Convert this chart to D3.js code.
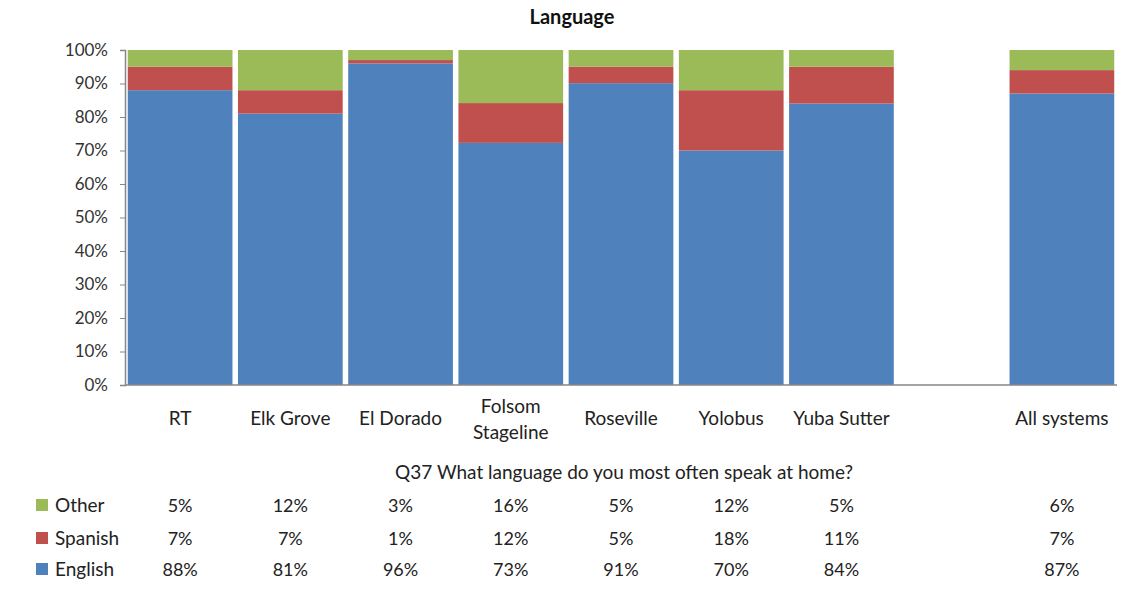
<!DOCTYPE html>
<html>
<head>
<meta charset="utf-8">
<script src="https://cdn.jsdelivr.net/npm/d3@7"></script>
<style>
  body { margin: 0; background: #fff; }
  svg { display: block; font-family: Lato, "Open Sans", sans-serif; }
</style>
</head>
<body>
<svg id="chart" width="1128" height="592"></svg>
<script>
// ---- data ----
const categories = ["RT", "Elk Grove", "El Dorado", "Folsom Stageline", "Roseville", "Yolobus", "Yuba Sutter", "", "All systems"];
const englishValues = [88, 81, 96, 73, 91, 70, 84, null, 87];
const spanishValues = [7, 7, 1, 12, 5, 18, 11, null, 7];
const otherValues   = [5, 12, 3, 16, 5, 12, 5, null, 6];
const seriesNames = ["English", "Spanish", "Other"];
const yTicks = [0, 0.1, 0.2, 0.3, 0.4, 0.5, 0.6, 0.7, 0.8, 0.9, 1.0];
const titleText = "Language";
const questionText = "Q37 What language do you most often speak at home?";

const colors = { English: "#4F81BD", Spanish: "#C0504D", Other: "#9BBB59" };

const svg = d3.select("#chart");
const plot = { left: 125, right: 1117, top: 50, bottom: 385 };

const rows = categories.map((c, i) => ({
  key: i, cat: c,
  English: englishValues[i] || 0,
  Spanish: spanishValues[i] || 0,
  Other: otherValues[i] || 0
}));

const x = d3.scaleBand().domain(rows.map(r => r.key)).range([plot.left, plot.right])
  .paddingInner(0.05).paddingOuter(0.025);
const y = d3.scaleLinear().domain([0, 1]).range([plot.bottom, plot.top]);

const stack = d3.stack().keys(seriesNames).offset(d3.stackOffsetExpand);
const stacked = stack(rows.filter(r => r.cat !== ""));

// bars
svg.append("g").selectAll("g").data(stacked).join("g")
  .attr("fill", d => colors[d.key])
  .selectAll("rect").data(d => d).join("rect")
  .attr("x", d => x(d.data.key))
  .attr("width", x.bandwidth())
  .attr("y", d => y(d[1]))
  .attr("height", d => y(d[0]) - y(d[1]));

// y axis
const yAxis = svg.append("g").attr("transform", `translate(${plot.left},0)`)
  .call(d3.axisLeft(y).tickValues(yTicks).tickFormat(d3.format(".0%")).tickSize(5).tickPadding(12));
yAxis.select(".domain").attr("stroke", "#868686").attr("stroke-width", 1.5);
yAxis.selectAll(".tick line").attr("stroke", "#868686");
yAxis.selectAll("text").attr("font-size", 17).attr("fill", "#333").attr("font-family", "Lato, sans-serif");

// x axis baseline
svg.append("line").attr("x1", plot.left).attr("x2", plot.right)
  .attr("y1", plot.bottom).attr("y2", plot.bottom)
  .attr("stroke", "#868686").attr("stroke-width", 1.5);

// category labels
const catG = svg.append("g");
rows.forEach(r => {
  if (!r.cat) return;
  const cx = x(r.key) + x.bandwidth() / 2;
  const words = r.cat === "Folsom Stageline" ? ["Folsom", "Stageline"] : [r.cat];
  const t = catG.append("text").attr("text-anchor", "middle")
    .attr("font-size", 19).attr("fill", "#222");
  if (words.length === 1) {
    t.append("tspan").attr("x", cx).attr("y", 425).text(words[0]);
  } else {
    t.append("tspan").attr("x", cx).attr("y", 413).text(words[0]);
    t.append("tspan").attr("x", cx).attr("y", 439).text(words[1]);
  }
});

// title
svg.append("text").attr("x", 572).attr("y", 24).attr("text-anchor", "middle")
  .attr("font-size", 20).attr("font-weight", "bold").attr("fill", "#111").text(titleText);

// question
svg.append("text").attr("x", 624).attr("y", 479).attr("text-anchor", "middle")
  .attr("font-size", 19).attr("fill", "#222").text(questionText);

// data table with legend
const tableRows = [
  { name: "Other", vals: otherValues, y: 505 },
  { name: "Spanish", vals: spanishValues, y: 538 },
  { name: "English", vals: englishValues, y: 569 }
];
const tbl = svg.append("g");
tableRows.forEach(tr => {
  tbl.append("rect").attr("x", 36).attr("y", tr.y - 6).attr("width", 12).attr("height", 12)
    .attr("fill", colors[tr.name]);
  tbl.append("text").attr("x", 55).attr("y", tr.y + 7).attr("font-size", 19).attr("fill", "#222").text(tr.name);
  rows.forEach((r, i) => {
    if (tr.vals[i] == null) return;
    tbl.append("text").attr("x", x(r.key) + x.bandwidth() / 2).attr("y", tr.y + 7)
      .attr("text-anchor", "middle").attr("font-size", 18).attr("fill", "#222")
      .text(tr.vals[i] + "%");
  });
});
</script>
</body>
</html>
